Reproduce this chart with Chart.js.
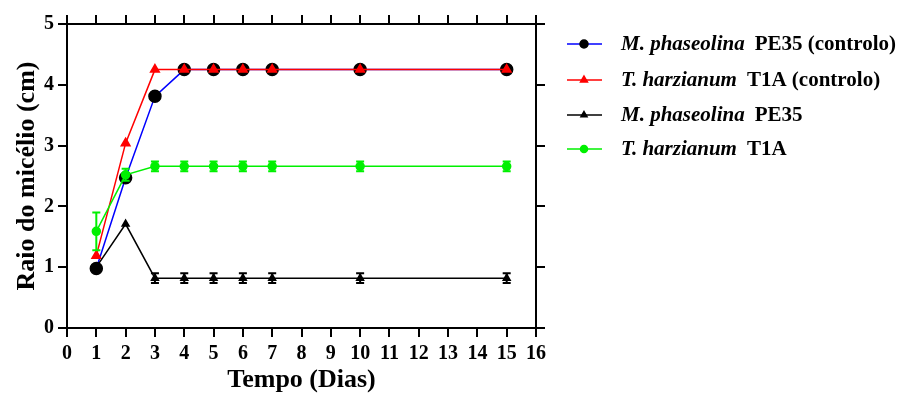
<!DOCTYPE html>
<html>
<head>
<meta charset="utf-8">
<script src="https://cdn.jsdelivr.net/npm/chart.js@4.4.0/dist/chart.umd.min.js"></script>
<style>
    body { margin: 0; background: #ffffff; }
    canvas { display: block; }
</style>
</head>
<body>
<canvas id="micelioChart" width="905" height="398"></canvas>
<script>
// days of measurement
var dias = [1, 2, 3, 4, 5, 6, 7, 10, 15];

// mycelium radius (cm) for each series
var mphControlo = [0.98, 2.47, 3.81, 4.25, 4.25, 4.25, 4.25, 4.25, 4.25];
var thzControlo = [1.19, 3.04, 4.25, 4.25, 4.25, 4.25, 4.25, 4.25, 4.25];
var mphDual = [1.0, 1.71, 0.82, 0.82, 0.82, 0.82, 0.82, 0.82, 0.82];
var thzDual = [1.59, 2.52, 2.66, 2.66, 2.66, 2.66, 2.66, 2.66, 2.66];

// standard error for the dual-culture series
var mphDualErr = [0, 0, 0.08, 0.08, 0.08, 0.08, 0.08, 0.08, 0.08];
var thzDualErr = [0.31, 0.1, 0.08, 0.08, 0.08, 0.08, 0.08, 0.08, 0.08];

// legend text: italic species name + plain strain part
var especies = ['M. phaseolina', 'T. harzianum', 'M. phaseolina', 'T. harzianum'];
var estirpes = ['PE35 (controlo)', 'T1A (controlo)', 'PE35', 'T1A'];

var xTicks = [0, 16];
var yTicks = [0, 5];

var serif = '"Liberation Serif", "Times New Roman", serif';

function toPoints(values) {
    var pts = [];
    for (var i = 0; i < dias.length; i++) {
        pts.push({x: dias[i], y: values[i]});
    }
    return pts;
}

// draws vertical error bars right after each dataset
var errorBars = {
    id: 'errorBars',
    afterDatasetDraw: function (chart, args) {
        var ds = chart.data.datasets[args.index];
        if (!ds.errors) return;
        var ctx = chart.ctx;
        var yScale = chart.scales.y;
        ctx.save();
        ctx.strokeStyle = ds.borderColor;
        ctx.lineWidth = 2;
        for (var i = 0; i < args.meta.data.length; i++) {
            var err = ds.errors[i];
            if (!err) continue;
            var px = args.meta.data[i].x;
            var val = ds.data[i].y;
            var top = yScale.getPixelForValue(val + err);
            var bot = yScale.getPixelForValue(val - err);
            ctx.beginPath();
            ctx.moveTo(px, top);
            ctx.lineTo(px, bot);
            ctx.moveTo(px - 4, top);
            ctx.lineTo(px + 4, top);
            ctx.moveTo(px - 4, bot);
            ctx.lineTo(px + 4, bot);
            ctx.stroke();
        }
        ctx.restore();
    }
};

// legend with mixed italic / bold text
var legendaMista = {
    id: 'legendaMista',
    afterDraw: function (chart) {
        var ctx = chart.ctx;
        var rows = [44, 80, 115, 149];
        ctx.save();
        for (var i = 0; i < chart.data.datasets.length; i++) {
            var ds = chart.data.datasets[i];
            var y = rows[i];
            ctx.strokeStyle = ds.borderColor;
            ctx.lineWidth = 1.5;
            ctx.beginPath();
            ctx.moveTo(567, y);
            ctx.lineTo(602, y);
            ctx.stroke();

            ctx.fillStyle = ds.pointBackgroundColor;
            ctx.strokeStyle = ds.pointBorderColor;
            Chart.helpers.drawPoint(ctx, {
                pointStyle: ds.pointStyle,
                radius: ds.legendRadius,
                rotation: 0,
                borderWidth: 1
            }, 584, y);

            ctx.fillStyle = '#000000';
            ctx.textBaseline = 'middle';
            ctx.textAlign = 'left';
            ctx.font = 'italic bold 21px ' + serif;
            ctx.fillText(especies[i], 621, y + 1);
            var w = ctx.measureText(especies[i]).width;
            ctx.font = 'bold 21px ' + serif;
            ctx.fillText(estirpes[i], 621 + w + 10, y + 1);
        }
        ctx.restore();
    }
};

var axisGrid = {
    drawOnChartArea: false,
    drawTicks: true,
    tickLength: 9,
    color: '#000000',
    lineWidth: 2
};
var axisBorder = { display: true, color: '#000000', width: 2 };
var tickFont = { family: serif, size: 20, weight: 'bold' };
var titleFont = { family: serif, size: 26, weight: 'bold' };

var graphTarget = document.getElementById('micelioChart');

var chart = new Chart(graphTarget, {
    type: 'line',
    data: {
        datasets: [
            {
                label: especies[0] + ' ' + estirpes[0],
                data: toPoints(mphControlo),
                borderColor: '#0000ff',
                borderWidth: 1.5,
                pointStyle: 'circle',
                pointRadius: 6,
                legendRadius: 4,
                pointBackgroundColor: '#000000',
                pointBorderColor: '#000000',
                order: 4
            },
            {
                label: especies[1] + ' ' + estirpes[1],
                data: toPoints(thzControlo),
                borderColor: '#ff0000',
                borderWidth: 1.5,
                pointStyle: 'triangle',
                pointRadius: 5,
                legendRadius: 4,
                pointBackgroundColor: '#ff0000',
                pointBorderColor: '#ff0000',
                order: 3
            },
            {
                label: especies[2] + ' ' + estirpes[2],
                data: toPoints(mphDual),
                errors: mphDualErr,
                borderColor: '#000000',
                borderWidth: 1.5,
                pointStyle: 'triangle',
                pointRadius: 4,
                legendRadius: 3.5,
                pointBackgroundColor: '#000000',
                pointBorderColor: '#000000',
                order: 2
            },
            {
                label: especies[3] + ' ' + estirpes[3],
                data: toPoints(thzDual),
                errors: thzDualErr,
                borderColor: '#00f000',
                borderWidth: 1.5,
                pointStyle: 'circle',
                pointRadius: 4,
                legendRadius: 3.5,
                pointBackgroundColor: '#00f000',
                pointBorderColor: '#00f000',
                order: 1
            }
        ]
    },
    options: {
        responsive: false,
        animation: false,
        devicePixelRatio: 1,
        layout: { padding: { left: 0, right: 359, top: 0, bottom: 0 } },
        scales: {
            x: {
                type: 'linear',
                position: 'bottom',
                min: xTicks[0],
                max: xTicks[1],
                ticks: { stepSize: 1, color: '#000000', font: tickFont, padding: 5, maxRotation: 0, autoSkip: false },
                grid: axisGrid,
                border: axisBorder,
                title: { display: true, text: 'Tempo (Dias)', color: '#000000', font: titleFont, padding: { top: 0, bottom: 2 } },
                afterFit: function (s) { s.height = 70; }
            },
            x2: {
                type: 'linear',
                position: 'top',
                min: xTicks[0],
                max: xTicks[1],
                ticks: { stepSize: 1, display: false },
                grid: axisGrid,
                border: axisBorder,
                afterFit: function (s) { s.height = 24; }
            },
            y: {
                type: 'linear',
                position: 'left',
                min: yTicks[0],
                max: yTicks[1],
                ticks: { stepSize: 1, color: '#000000', font: tickFont, padding: 4 },
                grid: axisGrid,
                border: axisBorder,
                title: { display: true, text: 'Raio do micélio (cm)', color: '#000000', font: titleFont, padding: { top: 12, bottom: 0 } },
                afterFit: function (s) { s.width = 67; }
            },
            y2: {
                type: 'linear',
                position: 'right',
                min: yTicks[0],
                max: yTicks[1],
                ticks: { stepSize: 1, display: false },
                grid: axisGrid,
                border: axisBorder,
                afterFit: function (s) { s.width = 10; }
            }
        },
        plugins: {
            legend: { display: false },
            tooltip: { enabled: false }
        }
    },
    plugins: [errorBars, legendaMista]
});
</script>
</body>
</html>
